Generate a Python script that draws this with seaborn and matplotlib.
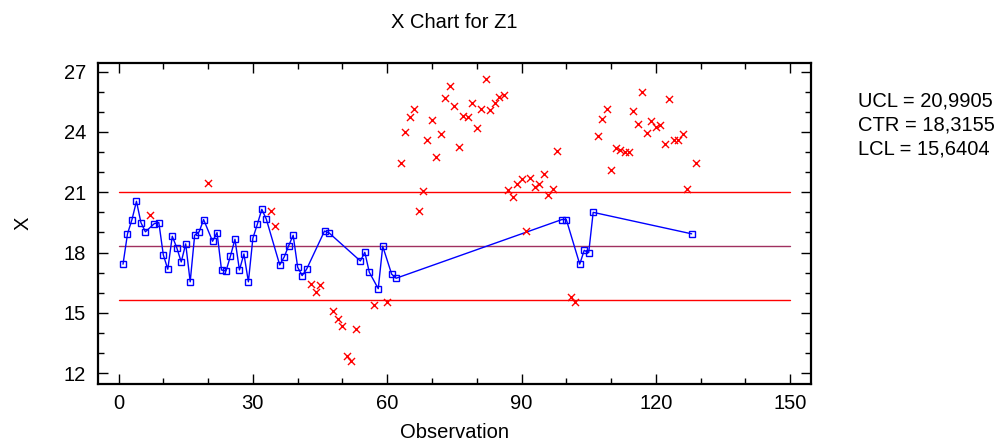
import numpy as np
import pandas as pd
import matplotlib
matplotlib.use("Agg")
import matplotlib.pyplot as plt
import seaborn as sns
from matplotlib.ticker import MultipleLocator

# ---- data ----
observations = list(range(1, 130))
values = [17.42, 18.93, 19.64, 20.55, 19.49, 19.03, 19.87, 19.44, 19.49, 17.88,
          17.17, 18.81, 18.24, 17.53, 18.43, 16.54, 18.86, 19.03, 19.64, 21.45,
          18.56, 18.99, 17.13, 17.08, 17.83, 18.66, 17.13, 17.93, 16.54, 18.71,
          19.41, 20.15, 19.66, 20.05, 19.32, 17.38, 17.78, 18.34, 18.86, 17.27,
          16.85, 17.17, 16.44, 16.03, 16.39, 19.07, 18.98, 15.11, 14.70, 14.33,
          12.87, 12.59, 14.21, 17.58, 18.01, 17.02, 15.38, 16.20, 18.31, 15.53,
          16.92, 16.72, 22.47, 24.01, 24.76, 25.14, 20.08, 21.08, 23.60, 24.58,
          22.77, 23.92, 25.68, 26.29, 25.31, 23.24, 24.80, 24.73, 25.46, 24.18,
          25.14, 26.64, 25.09, 25.46, 25.76, 25.82, 21.13, 20.78, 21.40, 21.66,
          19.07, 21.71, 21.28, 21.40, 21.91, 20.88, 21.18, 23.05, 19.64, 19.64,
          15.79, 15.56, 17.42, 18.11, 17.99, 20.00, 23.80, 24.63, 25.14, 22.11,
          23.19, 23.10, 23.00, 23.00, 25.04, 24.38, 25.97, 23.97, 24.55, 24.26,
          24.35, 23.40, 25.66, 23.60, 23.60, 23.90, 21.15, 18.93, 22.47]
excluded = ([7, 20, 34, 35, 43, 44, 45, 48, 49, 50, 51, 52, 53, 57, 60]
            + list(range(63, 99)) + [101, 102] + list(range(107, 128)) + [129])
limit_names = ["UCL", "CTR", "LCL"]
limit_values = [20.9905, 18.3155, 15.6404]
limit_labels = ["20,9905", "18,3155", "15,6404"]
limit_colors = ["#ff0000", "#a03060", "#ff0000"]

df = pd.DataFrame({"Observation": observations, "X": values})
df["excluded"] = df["Observation"].isin(excluded)
inc = df[~df["excluded"]]
exc = df[df["excluded"]]

# ---- plot ----
sns.set_style("ticks")
plt.rcParams["font.family"] = ["Liberation Sans", "DejaVu Sans"]
plt.rcParams["text.color"] = "black"
plt.rcParams["axes.labelcolor"] = "black"
FS = 14.5

fig = plt.figure(figsize=(10.04, 4.41), dpi=100)
ax = fig.add_axes([0.098, 0.129, 0.710, 0.728])

for v, c in zip(limit_values, limit_colors):
    ax.plot([0, 150], [v, v], color=c, lw=1.0, zorder=1)

sns.lineplot(data=inc, x="Observation", y="X", ax=ax, color="#0000ff", lw=1.0,
             marker="s", markersize=4.5, markerfacecolor="none",
             markeredgecolor="#0000ff", markeredgewidth=1.0, sort=False,
             estimator=None, zorder=3)
sns.scatterplot(data=exc, x="Observation", y="X", ax=ax, marker="x",
                color="#ff0000", s=26, linewidth=1.0, zorder=3)

ax.set_xlim(-4.5, 154.7)
ax.set_ylim(11.45, 27.43)
ax.xaxis.set_major_locator(MultipleLocator(30))
ax.xaxis.set_minor_locator(MultipleLocator(10))
ax.yaxis.set_major_locator(MultipleLocator(3))
ax.yaxis.set_minor_locator(MultipleLocator(1))
ax.tick_params(which="both", direction="in", top=True, right=True,
               labelsize=FS, width=1.0, colors="black")
ax.tick_params(which="major", length=7)
ax.tick_params(which="minor", length=4)
ax.tick_params(axis="x", which="major", pad=7)
ax.tick_params(axis="y", which="major", pad=9)
for s in ax.spines.values():
    s.set_linewidth(1.6)
    s.set_color("black")

ax.set_xlabel("Observation", fontsize=FS, labelpad=7)
ax.set_ylabel("X", fontsize=FS, labelpad=22)
fig.text(0.452, 1 - 28.3 / 441, "X Chart for Z1", fontsize=FS,
         ha="center", va="baseline")

for i, (n, lab) in enumerate(zip(limit_names, limit_labels)):
    fig.text(858 / 1004, 1 - (106.7 + 24 * i) / 441, f"{n} = {lab}",
             fontsize=FS, va="baseline", ha="left")

fig.savefig("out.png", dpi=100)
